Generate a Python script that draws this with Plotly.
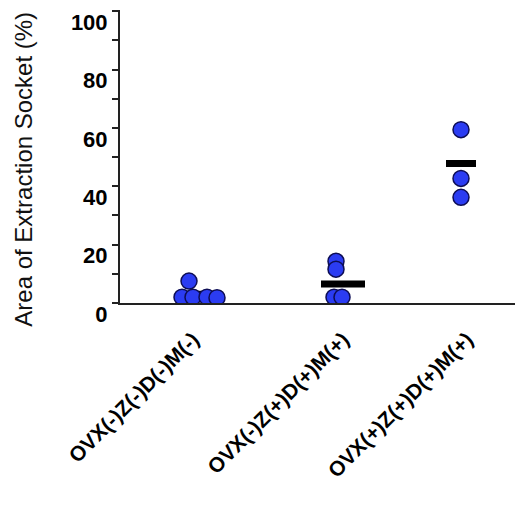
import plotly.graph_objects as go

# ---- data ----
categories = ["OVX(-)Z(-)D(-)M(-)", "OVX(-)Z(+)D(+)M(+)", "OVX(+)Z(+)D(+)M(+)"]
group1_values = [2.0, 7.5, 2.0, 2.0, 1.8]
group2_values = [14.3, 11.6, 2.0, 2.0]
group3_values = [59.4, 42.7, 36.2]
group_means = [3.0, 6.5, 47.8]
y_tick_values = [0, 20, 40, 60, 80, 100]
y_title = "Area of Extraction Socket (%)"

# ---- layout helpers (positions, not data) ----
group_centers = [80, 223, 341]          # x-axis units (plot px)
tick_positions = [73, 223, 347]
jitter = [[-18, -11, -7, 7, 17], [-7, -7, -9, -1], [0, 0, 0]]
bar_half_width = [22, 22, 15]
groups = [group1_values, group2_values, group3_values]

# the page body has an 8px default margin; compensate
PAGE_PAD = 8

fig = go.Figure()

# mean bars (drawn beneath points)
for c, m, hw in zip(group_centers, group_means, bar_half_width):
    fig.add_trace(go.Scatter(x=[c - hw, c + hw], y=[m, m], mode="lines",
                             line=dict(color="black", width=7),
                             hoverinfo="skip", showlegend=False))

for c, vals, jit in zip(group_centers, groups, jitter):
    fig.add_trace(go.Scatter(
        x=[c + j for j in jit], y=vals, mode="markers",
        marker=dict(size=16, color="#2b3cf2",
                    line=dict(color="#0d0d55", width=1.5)),
        showlegend=False))

fig.update_layout(
    width=523 - PAGE_PAD, height=509 - PAGE_PAD,
    margin=dict(l=120 - PAGE_PAD, r=0, t=10 - PAGE_PAD, b=206),
    plot_bgcolor="white", paper_bgcolor="white",
    font=dict(family="Liberation Sans, Arial, sans-serif", color="black"),
)

fig.update_xaxes(
    range=[0, 403], showgrid=False, zeroline=False, automargin=False,
    showline=True, linecolor="#222", linewidth=2,
    tickmode="array", tickvals=tick_positions, ticktext=categories,
    tickangle=-45, ticks="", ticklabelstandoff=14,
    tickfont=dict(size=21, family="Liberation Sans, Arial, sans-serif", weight="bold"),
)

fig.update_yaxes(
    range=[0, 100.4], showgrid=False, zeroline=False, automargin=False,
    showline=True, linecolor="#222", linewidth=2,
    tickmode="array", tickvals=y_tick_values,
    ticks="outside", ticklen=6, tickwidth=1.5, tickcolor="#222",
    minor=dict(tickmode="array", tickvals=[10, 30, 50, 70, 90],
               ticks="outside", ticklen=6, tickwidth=1.5, tickcolor="#222"),
    tickfont=dict(size=22, family="Liberation Sans, Arial, sans-serif", weight="bold"),
    ticklabelshift=11, ticklabeloverflow="allow",
)

fig.add_annotation(
    text=y_title, textangle=-90, showarrow=False,
    xref="paper", yref="paper", x=0, y=0.455,
    xanchor="center", yanchor="middle", xshift=-96,
    font=dict(size=24, family="Liberation Sans, Arial, sans-serif", color="#111"),
)

fig.write_html("out.html")
